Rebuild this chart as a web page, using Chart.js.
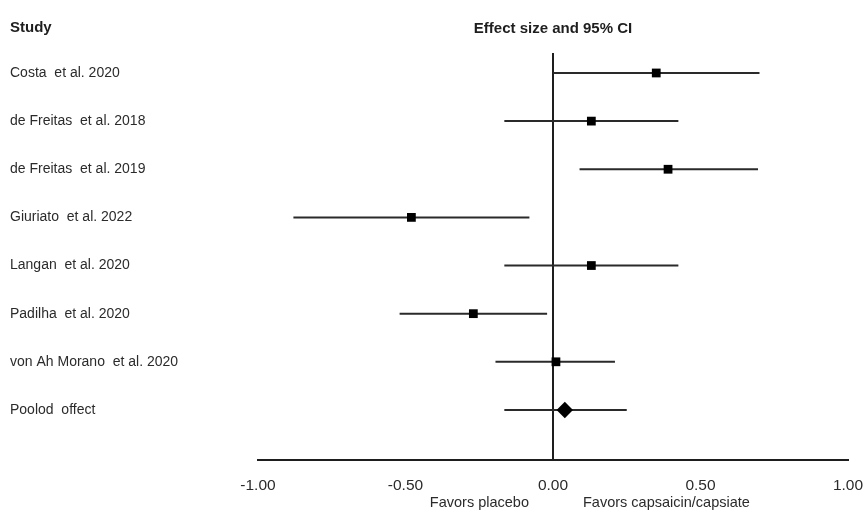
<!DOCTYPE html>
<html>
<head>
<meta charset="utf-8">
<script src="https://cdn.jsdelivr.net/npm/chart.js@4"></script>
<style>
  html, body { margin: 0; padding: 0; background: #fff; }
  #wrap { width: 866px; height: 512px; }
</style>
</head>
<body>
<div id="wrap"><canvas id="forestChart" width="866" height="512"></canvas></div>
<script>
// Forest plot - effect sizes with 95% CI

const studies = [
  'Costa  et al. 2020',
  'de Freitas  et al. 2018',
  'de Freitas  et al. 2019',
  'Giuriato  et al. 2022',
  'Langan  et al. 2020',
  'Padilha  et al. 2020',
  'von Ah Morano  et al. 2020',
  'Poolod  offect'
];
const effect = [0.35, 0.13, 0.39, -0.48, 0.13, -0.27, 0.01, 0.04];
const ciLow  = [0.00, -0.165, 0.09, -0.88, -0.165, -0.52, -0.195, -0.165];
const ciHigh = [0.70, 0.425, 0.695, -0.08, 0.425, -0.02, 0.21, 0.25];
const xTicks = [-1, -0.5, 0, 0.5, 1];

const ink = '#1e1e1e';
const font = 'Liberation Sans, Arial, sans-serif';

// one line per confidence interval
const ciSets = studies.map((s, i) => ({
  type: 'line',
  label: s,
  data: [{ x: ciLow[i], y: i }, { x: ciHigh[i], y: i }],
  borderColor: '#2a2a2a',
  borderWidth: 2,
  pointRadius: 0,
  order: 2
}));

const pointSet = {
  type: 'scatter',
  label: 'Effect',
  data: effect.map((v, i) => ({ x: v, y: i })),
  pointStyle: studies.map((s, i) => i === studies.length - 1 ? 'rectRot' : 'rect'),
  pointRadius: studies.map((s, i) => i === studies.length - 1 ? 8.2 : 6.2),
  backgroundColor: '#000',
  borderColor: '#000',
  borderWidth: 0,
  order: 1
};

// headers and the "favors" captions
const captions = {
  id: 'captions',
  afterDraw(chart) {
    const ctx = chart.ctx;
    const zeroX = chart.scales.x.getPixelForValue(0);
    ctx.save();
    ctx.fillStyle = ink;
    ctx.textBaseline = 'middle';
    ctx.font = 'bold 15px ' + font;
    ctx.textAlign = 'left';
    ctx.fillText('Study', 10, 28);
    ctx.textAlign = 'center';
    ctx.fillText('Effect size and 95% CI', zeroX, 29);
    ctx.font = '14.5px ' + font;
    ctx.fillStyle = '#2b2b2b';
    ctx.textAlign = 'right';
    ctx.fillText('Favors placebo', zeroX - 24, 503);
    ctx.textAlign = 'left';
    ctx.fillText('Favors capsaicin/capsiate', zeroX + 30, 503);
    ctx.restore();
  }
};

new Chart(document.getElementById('forestChart'), {
  data: { datasets: [...ciSets, pointSet] },
  options: {
    responsive: false,
    animation: false,
    layout: { padding: { top: 53, left: 10, right: 18, bottom: 0 } },
    plugins: { legend: { display: false }, tooltip: { enabled: false } },
    scales: {
      x: {
        type: 'linear',
        min: -1,
        max: 1,
        afterBuildTicks: (scale) => { scale.ticks = xTicks.map(v => ({ value: v })); },
        afterFit: (scale) => {
          scale.height = 52;
          scale.paddingLeft = 0;
          scale.paddingRight = 0;
        },
        border: { display: true, color: ink, width: 2 },
        grid: {
          drawTicks: false,
          lineWidth: 2,
          color: (c) => (c.tick && c.tick.value === 0) ? ink : 'rgba(0,0,0,0)'
        },
        ticks: {
          padding: 16,
          color: '#2b2b2b',
          font: { family: font, size: 15.5 },
          callback: (v) => Number(v).toFixed(2)
        }
      },
      y: {
        type: 'linear',
        reverse: true,
        min: -0.415,
        max: 8.04,
        afterBuildTicks: (scale) => { scale.ticks = studies.map((s, i) => ({ value: i })); },
        afterFit: (scale) => { scale.width = 248; },
        border: { display: false },
        grid: { display: false, drawTicks: false },
        ticks: {
          crossAlign: 'far',
          color: '#2b2b2b',
          font: { family: font, size: 14 },
          callback: (v) => studies[v] || ''
        }
      }
    }
  },
  plugins: [captions]
});
</script>
</body>
</html>
